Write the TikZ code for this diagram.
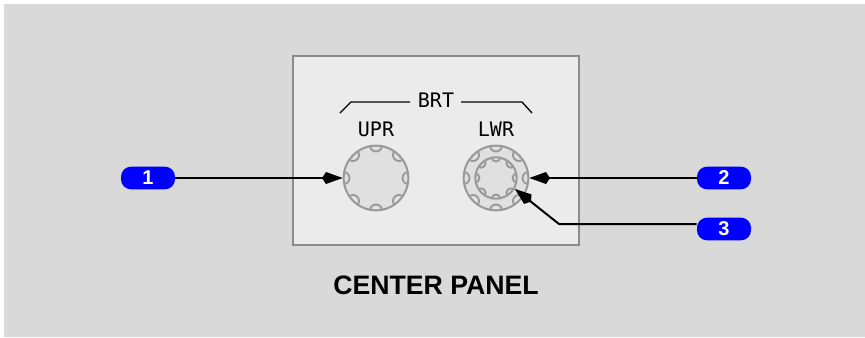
\documentclass[tikz,border=0pt]{standalone}
\usepackage{fontspec}
\setmainfont{Liberation Sans}
\newfontfamily\panelfont{DejaVu Sans Mono}
\usetikzlibrary{arrows.meta,calc}
\definecolor{bggray}{HTML}{D9D9D9}
\definecolor{panelgray}{HTML}{EBEBEB}
\definecolor{knobgray}{HTML}{E0E0E0}
\definecolor{edgegray}{HTML}{8C8C8C}
\definecolor{knobedge}{HTML}{999999}
\definecolor{badgeblue}{HTML}{0000FF}
\tikzset{
  badge/.style={draw=none,fill=badgeblue,rounded corners=7.5pt,minimum width=40.5pt,minimum height=17pt,
    inner sep=0pt,text=white,font=\fontsize{15}{15}\selectfont\bfseries},
  legend/.style={font=\panelfont\fontsize{15}{15}\selectfont,inner sep=0pt},
  knob/.style={circle,draw=knobedge,line width=1.5pt,fill=knobgray,inner sep=0pt},
  callout/.style={line width=1.5pt,-{Kite[length=15.5pt,width=9pt,inset=3pt]}},
}
\begin{document}
\begin{tikzpicture}[x=0.75pt,y=-0.75pt]
  \useasboundingbox (0,0) rectangle (865,337);
  \fill[white] (0,0) rectangle (865,337);
  \fill[bggray] (4,4) rectangle (865,337);
  \draw[edgegray,line width=1.3pt,fill=panelgray] (293,56) rectangle (579,245);

  % Bracket over the two knobs
  \node[legend] (brt) at (436,100.5) {BRT};
  \draw[line width=1pt] (340,113)--(351,102)--(410,102);
  \draw[line width=1pt] (461,102)--(522,102)--(532,113);
  \node[legend] (upr) at (376,129) {UPR};
  \node[legend] (lwr) at (496,129) {LWR};

  % Knobs
  \node[knob,minimum size=48.5pt] (knobupr) at (376,178) {};
  \node[knob,minimum size=48.5pt] (knoblwr) at (496,178) {};
  \foreach \cx in {376,496}
    \foreach \a in {0,45,...,315}
      \draw[knobedge,line width=1.4pt] ($(\cx,178)+(\a:32.5)+(\a+90:6)$) arc[start angle=\a+90,delta angle=180,radius=6];
  \node[knob,minimum size=31pt] (knobinner) at (496,178) {};
  \foreach \a in {0,45,...,315}
    \draw[knobedge,line width=1.4pt] ($(496,178)+(\a:21)+(\a+90:4.5)$) arc[start angle=\a+90,delta angle=180,radius=4.5];

  % Callouts
  \node[badge] (badge1) at (148,178) {1};
  \node[badge] (badge2) at (724,178) {2};
  \node[badge] (badge3) at (724,229) {3};
  \coordinate (elbow) at (559,224);
  \draw[callout] (badge1.east |- knobupr)--(knobupr.west);
  \draw[callout] (badge2.west |- knoblwr)--(knoblwr.east);
  \draw[callout] (badge3.west |- elbow)--(elbow)--(knobinner.-30);

  \node[font=\fontsize{20}{20}\selectfont\bfseries,inner sep=0pt] (title) at (436,285) {CENTER PANEL};
\end{tikzpicture}
\end{document}
